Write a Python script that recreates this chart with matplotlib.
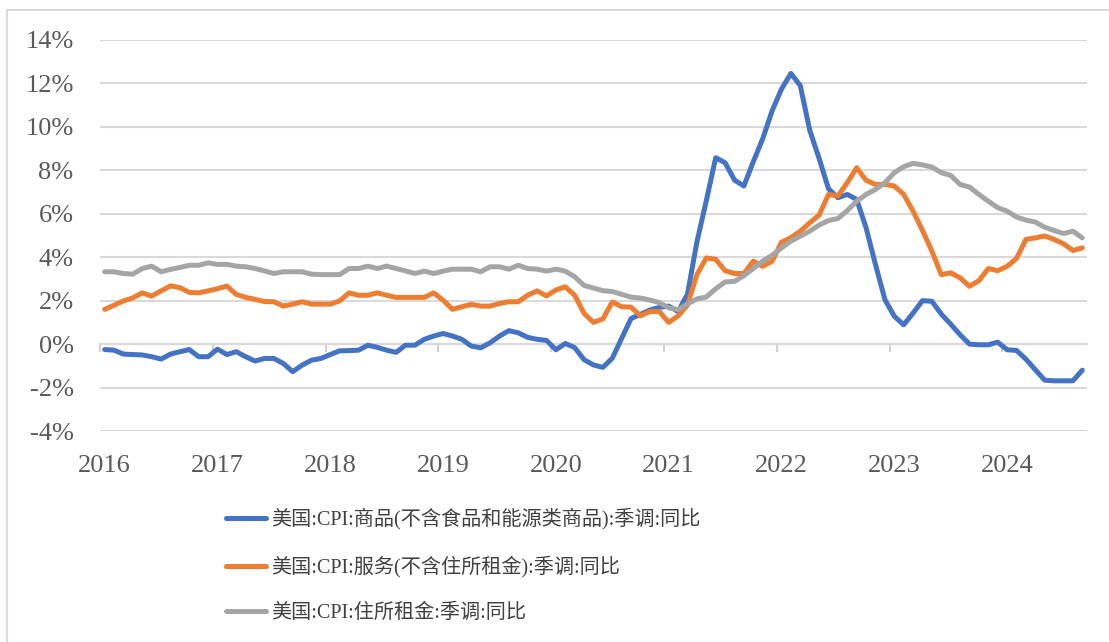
import matplotlib
matplotlib.use("Agg")
import matplotlib.pyplot as plt
from matplotlib.lines import Line2D
import numpy as np

plt.rcParams['font.family'] = ['Liberation Serif', 'Noto Sans CJK SC', 'DejaVu Sans']

# Monthly data, Jan 2016 .. Sep 2024 (YoY, %)
years = ['2016', '2017', '2018', '2019', '2020', '2021', '2022', '2023', '2024']

goods = [
    -0.25, -0.28, -0.46, -0.48, -0.5, -0.58, -0.69, -0.46, -0.35, -0.25, -0.58, -0.58,
    -0.23, -0.48, -0.35, -0.58, -0.78, -0.66, -0.66, -0.89, -1.27, -0.97, -0.74, -0.66,
    -0.48, -0.31, -0.3, -0.28, -0.05, -0.15, -0.28, -0.38, -0.05, -0.05, 0.22, 0.37,
    0.49, 0.37, 0.22, -0.09, -0.17, 0.06, 0.37, 0.62, 0.52, 0.31, 0.22, 0.17,
    -0.26, 0.03, -0.16, -0.72, -0.96, -1.07, -0.65, 0.27, 1.18, 1.37, 1.57, 1.69,
    1.75, 1.5, 2.3, 4.7, 6.6, 8.58, 8.35, 7.55, 7.28, 8.4, 9.45, 10.74,
    11.74, 12.46, 11.9, 9.85, 8.55, 7.15, 6.74, 6.89, 6.66, 5.35, 3.66, 2.05,
    1.28, 0.89, 1.43, 2.0, 1.97, 1.38, 0.92, 0.43, 0.0, -0.03, -0.03, 0.09,
    -0.26, -0.29, -0.69, -1.18, -1.66, -1.69, -1.69, -1.69, -1.2,
]

services = [
    1.6, 1.79, 1.99, 2.13, 2.36, 2.21, 2.45, 2.68, 2.6, 2.38, 2.36, 2.45,
    2.55, 2.67, 2.29, 2.15, 2.06, 1.96, 1.95, 1.75, 1.84, 1.95, 1.84, 1.84,
    1.84, 1.99, 2.36, 2.25, 2.25, 2.36, 2.25, 2.15, 2.15, 2.15, 2.15, 2.36,
    2.02, 1.6, 1.72, 1.83, 1.75, 1.75, 1.87, 1.95, 1.95, 2.25, 2.45, 2.22,
    2.49, 2.64, 2.25, 1.41, 1.0, 1.16, 1.94, 1.72, 1.7, 1.3, 1.5, 1.5,
    1.0, 1.3, 1.8, 3.2, 3.97, 3.9, 3.38, 3.25, 3.25, 3.82, 3.58, 3.82,
    4.69, 4.9, 5.2, 5.58, 5.94, 6.89, 6.82, 7.43, 8.12, 7.54, 7.35, 7.35,
    7.28, 6.89, 6.12, 5.23, 4.28, 3.2, 3.28, 3.05, 2.66, 2.92, 3.48, 3.38,
    3.58, 3.94, 4.82, 4.89, 4.98, 4.82, 4.62, 4.31, 4.43,
]

shelter = [
    3.33, 3.33, 3.25, 3.22, 3.48, 3.59, 3.33, 3.44, 3.53, 3.63, 3.63, 3.74,
    3.67, 3.67, 3.59, 3.56, 3.48, 3.37, 3.25, 3.33, 3.33, 3.33, 3.22, 3.2,
    3.2, 3.2, 3.48, 3.48, 3.59, 3.48, 3.59, 3.48, 3.37, 3.25, 3.36, 3.25,
    3.36, 3.45, 3.45, 3.45, 3.33, 3.56, 3.56, 3.45, 3.63, 3.48, 3.45, 3.36,
    3.45, 3.36, 3.1, 2.7, 2.58, 2.46, 2.42, 2.29, 2.16, 2.12, 2.03, 1.91,
    1.67, 1.59, 1.85, 2.08, 2.17, 2.55, 2.86, 2.89, 3.15, 3.48, 3.82, 4.09,
    4.43, 4.74, 4.97, 5.2, 5.48, 5.69, 5.78, 6.15, 6.58, 6.89, 7.12, 7.43,
    7.89, 8.17, 8.32, 8.25, 8.15, 7.89, 7.77, 7.35, 7.23, 6.89, 6.58, 6.28,
    6.12, 5.85, 5.71, 5.62, 5.38, 5.23, 5.09, 5.2, 4.89,
]

labels = [
    '美国:CPI:商品(不含食品和能源类商品):季调:同比',
    '美国:CPI:服务(不含住所租金):季调:同比',
    '美国:CPI:住所租金:季调:同比',
]
colors = ['#4472C4', '#ED7D31', '#A5A5A5']
y_ticks = [-4, -2, 0, 2, 4, 6, 8, 10, 12, 14]

W, H = 1109, 642
fig = plt.figure(figsize=(W / 100, H / 100), dpi=100)
ax = fig.add_axes([100 / W, 1 - 431 / H, (1087 - 100) / W, (431 - 40) / H])

n = len(goods)
x = np.arange(n) + 0.5
for series, c, lab in zip([goods, services, shelter], colors, labels):
    ax.plot(x, series, color=c, lw=3.6, label=lab, solid_joinstyle='round',
            solid_capstyle='round', zorder=3)

ax.set_xlim(0, n)
ax.set_ylim(-4, 14)
ax.set_yticks(y_ticks)
ax.set_yticklabels([f'{v}%' for v in y_ticks])
ax.grid(axis='y', color='#D9D9D9', lw=1.5, zorder=0)
for s in ax.spines.values():
    s.set_visible(False)
ax.tick_params(axis='y', length=0, pad=19, labelsize=19, labelcolor='#595959')

# year labels at the bottom
ax.set_xticks(np.arange(len(years)) * 12 + 0.5)
ax.set_xticklabels(years)
ax.tick_params(axis='x', length=0, pad=17, labelsize=19, labelcolor='#595959')

# horizontal axis crossing at 0 with tick marks
sec = ax.secondary_xaxis(4 / 18)
sec.spines['bottom'].set_color('#D0D0D0')
sec.spines['bottom'].set_linewidth(1.5)
sec.set_xticks(np.arange(len(years)) * 12)
sec.set_xticklabels([])
sec.tick_params(axis='x', direction='out', length=6, width=1.5, color='#D0D0D0')

leg = fig.legend(loc='upper left', bbox_to_anchor=(226 / W, 1 - 508 / H),
                 frameon=False, fontsize=14.5, handlelength=2.0, handletextpad=0.25,
                 labelspacing=1.3, borderpad=0, borderaxespad=0)
for t in leg.get_texts():
    t.set_color('#404040')

# chart-area border (top and left visible)
fig.add_artist(Line2D([7 / W, 1.0], [1 - 10 / H, 1 - 10 / H], color='#D9D9D9', lw=1.5))
fig.add_artist(Line2D([7 / W, 7 / W], [1 - 10 / H, 0.0], color='#D9D9D9', lw=1.5))

fig.savefig('out.png', dpi=100)
